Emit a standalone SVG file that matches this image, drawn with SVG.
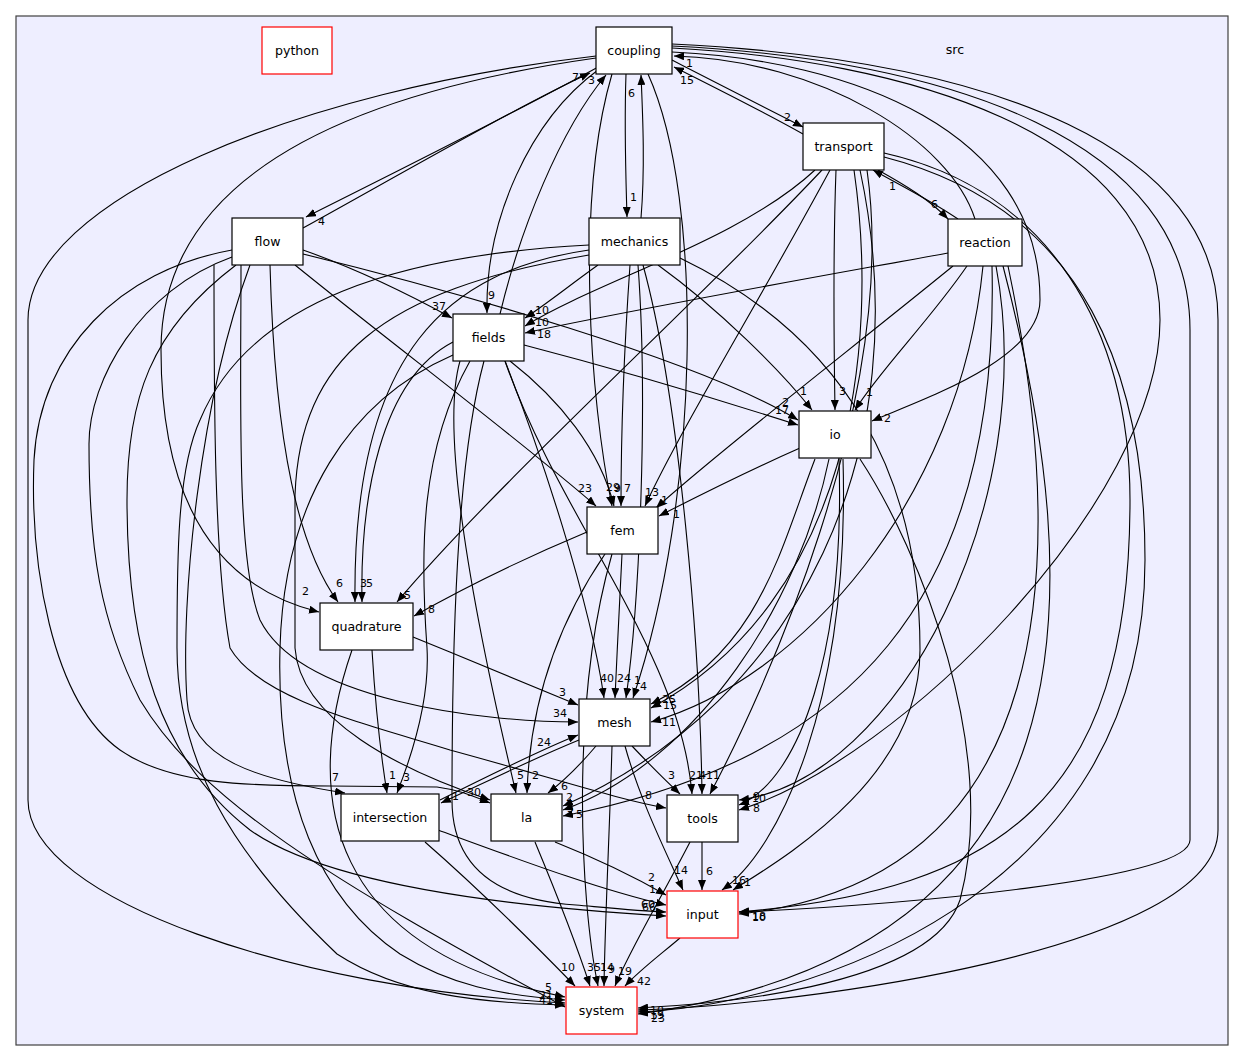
<svg xmlns="http://www.w3.org/2000/svg" width="1245" height="1061" viewBox="0 0 1245 1061">
<defs>
<marker id="a" markerWidth="10" markerHeight="8" refX="10" refY="4" orient="auto" markerUnits="userSpaceOnUse"><path d="M0,0 L10,4 L0,8 z" fill="#000"/></marker>
<style>
.bg{fill:#eeeeff;stroke:#404040;stroke-width:1.2}
.nd rect{fill:#fff;stroke:#000;stroke-width:1.2}
.nd.red rect{stroke:#ff0000}
.nd text{font-family:"DejaVu Sans",sans-serif;font-size:12.6px;text-anchor:middle;fill:#000}
.e path{fill:none;stroke:#000;stroke-width:1.1;marker-end:url(#a)}
.lb text{font-family:"DejaVu Sans",sans-serif;font-size:11px;fill:#000}
.cl{font-family:"DejaVu Sans",sans-serif;font-size:12.6px;fill:#000;text-anchor:middle}
</style>
</defs>
<rect class="bg" x="16" y="16" width="1212" height="1029"/>
<text class="cl" x="955" y="54">src</text>
<g class="e">
<path d="M600,66 C520,110 380,180 306,217"/>
<path d="M303,228 C390,180 520,105 590,73"/>
<path d="M598,70 C530,120 485,220 487,313"/>
<path d="M500,314 C520,230 560,130 606,75"/>
<path d="M626,74 C624,130 626,180 627,217"/>
<path d="M641,218 C645,170 643,120 641,75"/>
<path d="M672,60 C720,85 770,110 803,127"/>
<path d="M803,134 C760,110 710,85 674,67"/>
<path d="M975,219 C950,140 820,60 674,56"/>
<path d="M672,52 C850,60 1040,130 1040,300 C1040,360 920,400 872,421"/>
<path d="M672,48 C900,60 1160,130 1160,320 C1160,500 900,760 739,810"/>
<path d="M672,46 C950,60 1190,140 1190,330 L1190,840 C1190,880 900,905 739,912"/>
<path d="M672,44 C1000,60 1218,150 1218,320 L1218,830 C1218,950 800,1005 638,1010"/>
<path d="M612,74 C575,200 590,400 612,506"/>
<path d="M648,74 C705,200 700,500 633,698"/>
<path d="M596,58 C300,100 161,200 161,350 C161,520 230,590 319,612"/>
<path d="M596,56 C300,90 28,200 28,320 L28,800 C28,900 300,990 565,1003"/>
<path d="M303,250 C360,270 410,295 452,318"/>
<path d="M303,254 C450,290 700,360 798,420"/>
<path d="M524,345 C620,370 720,400 798,425"/>
<path d="M658,265 C720,310 780,370 812,410"/>
<path d="M836,170 C833,250 834,350 835,410"/>
<path d="M967,266 C930,320 880,370 855,410"/>
<path d="M295,265 C400,350 520,440 596,506"/>
<path d="M630,265 C624,350 621,430 621,506"/>
<path d="M510,361 C560,400 600,450 614,506"/>
<path d="M830,170 C760,300 680,430 645,506"/>
<path d="M953,266 C850,350 720,450 656,508"/>
<path d="M800,448 C750,470 700,495 659,516"/>
<path d="M598,265 C570,285 545,305 525,318"/>
<path d="M815,170 C740,240 600,280 525,326"/>
<path d="M948,253 C800,280 630,310 525,333"/>
<path d="M878,170 C905,185 930,200 948,219"/>
<path d="M958,219 C930,200 900,185 873,170"/>
<path d="M270,265 C275,450 300,550 338,602"/>
<path d="M589,250 C450,270 352,350 355,602"/>
<path d="M453,342 C380,380 360,500 362,602"/>
<path d="M822,170 C700,300 500,480 397,602"/>
<path d="M587,532 C520,560 460,590 414,616"/>
<path d="M505,361 C540,450 590,600 604,698"/>
<path d="M622,554 C620,600 617,650 615,698"/>
<path d="M638,265 C648,400 640,600 626,698"/>
<path d="M413,637 C470,660 530,685 578,705"/>
<path d="M241,265 C241,400 236,560 260,620 C300,700 480,722 578,722"/>
<path d="M440,800 C490,775 540,750 578,735"/>
<path d="M579,740 C530,760 480,785 441,803"/>
<path d="M815,459 C780,550 760,650 651,704"/>
<path d="M854,170 C880,350 850,600 651,708"/>
<path d="M983,266 C960,500 800,680 651,722"/>
<path d="M596,746 C580,765 565,780 548,793"/>
<path d="M460,361 C440,430 470,600 516,793"/>
<path d="M605,554 C560,620 530,700 527,793"/>
<path d="M632,746 C650,765 665,780 680,794"/>
<path d="M505,361 C560,520 680,650 692,794"/>
<path d="M643,265 C680,400 700,650 702,794"/>
<path d="M867,170 C900,400 760,700 710,794"/>
<path d="M232,250 C120,270 40,350 34,460 C30,560 50,700 120,750 C170,785 250,786 330,786 L437,787 C460,790 475,797 490,803"/>
<path d="M589,255 C380,290 300,360 295,495 L295,648 C300,720 400,770 490,800"/>
<path d="M829,459 C800,600 700,760 563,810"/>
<path d="M860,170 C920,450 800,700 563,806"/>
<path d="M992,266 C1000,600 850,760 563,816"/>
<path d="M214,265 C214,400 214,560 230,648 C260,700 370,725 450,750 C560,780 620,800 666,808"/>
<path d="M996,266 C1040,500 900,780 739,800"/>
<path d="M839,459 C845,650 800,780 739,805"/>
<path d="M372,650 C375,700 380,750 387,793"/>
<path d="M470,361 C420,450 420,550 427,648 C430,700 410,760 397,793"/>
<path d="M250,265 C200,400 180,600 187,700 C190,760 260,780 345,793"/>
<path d="M555,842 C600,860 640,880 666,895"/>
<path d="M625,746 C640,800 665,850 683,890"/>
<path d="M702,842 L702,890"/>
<path d="M843,459 C850,700 780,850 722,890"/>
<path d="M680,258 C850,340 920,480 920,650 C920,780 780,860 733,890"/>
<path d="M438,830 C520,860 600,890 666,905"/>
<path d="M484,361 C460,450 452,600 452,800 C452,870 500,900 576,905 C610,908 640,911 666,912"/>
<path d="M236,265 C150,330 127,400 127,500 C127,650 160,760 250,830 C320,880 480,905 666,916"/>
<path d="M1008,266 C1070,560 1060,880 739,914"/>
<path d="M884,153 C1050,190 1130,330 1130,500 C1130,800 1000,890 739,912"/>
<path d="M425,842 C480,890 540,950 575,986"/>
<path d="M535,842 C555,890 575,940 590,986"/>
<path d="M612,554 C570,700 580,900 598,986"/>
<path d="M612,746 C610,820 605,920 604,986"/>
<path d="M690,842 C660,900 630,950 615,986"/>
<path d="M680,938 C660,955 640,970 625,986"/>
<path d="M352,650 C300,800 330,950 565,997"/>
<path d="M453,355 C350,400 284,500 280,648 C276,800 320,900 400,954 C450,985 500,995 565,1000"/>
<path d="M589,245 C400,255 250,300 200,420 C177,470 177,560 177,648 C177,760 230,852 337,954 C400,995 480,1003 565,1005"/>
<path d="M232,257 C140,290 89,380 89,444 C89,550 100,620 140,700 C200,800 330,880 565,1007"/>
<path d="M860,459 C920,550 1000,750 960,900 C930,990 700,1005 638,1008"/>
<path d="M884,157 C1090,210 1145,380 1145,560 C1145,900 800,1005 638,1012"/>
<path d="M1003,266 C1090,600 1100,950 638,1014"/>
</g>
<g class="lb">
<text x="318" y="225">4</text><text x="572" y="81">7</text><text x="488" y="299">9</text><text x="588" y="84">3</text>
<text x="630" y="201">1</text><text x="628" y="97">6</text><text x="784" y="121">2</text><text x="680" y="84">15</text>
<text x="686" y="67">1</text><text x="884" y="422">2</text><text x="753" y="812">8</text><text x="752" y="921">10</text>
<text x="651" y="1022">23</text><text x="606" y="491">29</text><text x="640" y="690">4</text><text x="302" y="595">2</text>
<text x="452" y="800">1</text><text x="432" y="310">37</text><text x="782" y="406">2</text><text x="775" y="414">17</text>
<text x="800" y="395">1</text><text x="839" y="395">3</text><text x="866" y="396">1</text><text x="578" y="492">23</text>
<text x="624" y="492">7</text><text x="614" y="492">9</text><text x="645" y="496">13</text><text x="661" y="504">1</text>
<text x="673" y="518">1</text><text x="535" y="314">10</text><text x="535" y="326">10</text><text x="537" y="338">18</text>
<text x="931" y="208">6</text><text x="889" y="190">1</text><text x="336" y="587">6</text><text x="360" y="587">3</text>
<text x="366" y="587">5</text><text x="404" y="599">5</text><text x="428" y="613">8</text><text x="600" y="682">40</text>
<text x="617" y="682">24</text><text x="634" y="684">1</text><text x="559" y="696">3</text><text x="553" y="717">34</text>
<text x="537" y="746">24</text><text x="662" y="703">25</text><text x="663" y="709">15</text><text x="662" y="726">11</text>
<text x="561" y="790">6</text><text x="517" y="779">5</text><text x="532" y="779">2</text><text x="668" y="779">3</text>
<text x="689" y="779">21</text><text x="699" y="779">4</text><text x="706" y="779">11</text><text x="645" y="799">8</text>
<text x="752" y="802">10</text><text x="753" y="800">9</text><text x="389" y="779">1</text><text x="403" y="781">3</text><text x="332" y="781">7</text>
<text x="467" y="796">30</text><text x="566" y="801">2</text><text x="567" y="812">5</text><text x="576" y="818">5</text>
<text x="648" y="881">2</text><text x="674" y="874">14</text><text x="706" y="875">6</text><text x="732" y="884">16</text>
<text x="744" y="886">1</text><text x="649" y="893">1</text><text x="641" y="908">60</text><text x="642" y="911">66</text><text x="752" y="920">18</text>
<text x="561" y="971">10</text><text x="587" y="971">35</text><text x="600" y="971">14</text><text x="608" y="973">9</text>
<text x="618" y="975">19</text><text x="637" y="985">42</text><text x="545" y="991">5</text><text x="539" y="999">21</text>
<text x="539" y="1004">41</text><text x="650" y="1019">19</text><text x="650" y="1014">10</text>
</g>
<g id="python" class="nd red"><rect x="262" y="27" width="70" height="47"/><text x="297" y="55">python</text></g>
<g id="coupling" class="nd"><rect x="596" y="27" width="76" height="47"/><text x="634" y="55">coupling</text></g>
<g id="transport" class="nd"><rect x="803" y="123" width="81" height="47"/><text x="843.5" y="151">transport</text></g>
<g id="flow" class="nd"><rect x="232" y="218" width="71" height="47"/><text x="267.5" y="246">flow</text></g>
<g id="mechanics" class="nd"><rect x="589" y="218" width="91" height="47"/><text x="634.5" y="246">mechanics</text></g>
<g id="reaction" class="nd"><rect x="948" y="219" width="74" height="47"/><text x="985" y="247">reaction</text></g>
<g id="fields" class="nd"><rect x="453" y="314" width="71" height="47"/><text x="488.5" y="342">fields</text></g>
<g id="io" class="nd"><rect x="799" y="411" width="72" height="47"/><text x="835" y="439">io</text></g>
<g id="fem" class="nd"><rect x="587" y="507" width="71" height="47"/><text x="622.5" y="535">fem</text></g>
<g id="quadrature" class="nd"><rect x="320" y="603" width="93" height="47"/><text x="366.5" y="631">quadrature</text></g>
<g id="mesh" class="nd"><rect x="579" y="699" width="71" height="47"/><text x="614.5" y="727">mesh</text></g>
<g id="intersection" class="nd"><rect x="341" y="794" width="98" height="47"/><text x="390" y="822">intersection</text></g>
<g id="la" class="nd"><rect x="491" y="794" width="71" height="47"/><text x="526.5" y="822">la</text></g>
<g id="tools" class="nd"><rect x="667" y="795" width="71" height="47"/><text x="702.5" y="823">tools</text></g>
<g id="input" class="nd red"><rect x="667" y="891" width="71" height="47"/><text x="702.5" y="919">input</text></g>
<g id="system" class="nd red"><rect x="566" y="987" width="71" height="47"/><text x="601.5" y="1015">system</text></g>
</svg>
